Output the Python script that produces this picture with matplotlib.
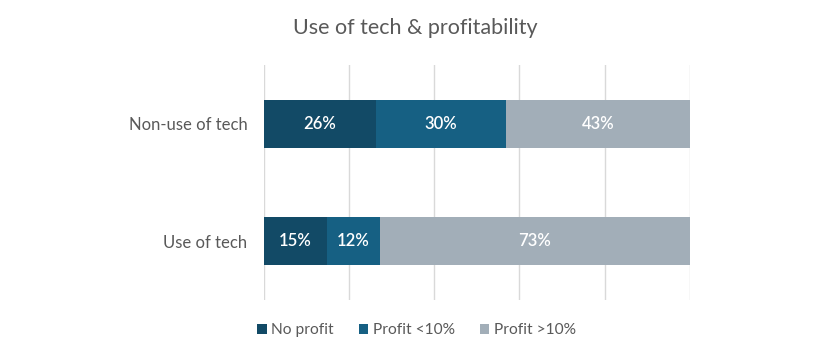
import matplotlib
matplotlib.use("Agg")
import matplotlib.pyplot as plt
import numpy as np

categories = ["Non-use of tech", "Use of tech"]
series_names = ["No profit", "Profit <10%", "Profit >10%"]
no_profit = [26.3, 14.8]
profit_lt10 = [30.5, 12.4]
profit_gt10 = [43.2, 72.8]
colors = ["#124a66", "#166083", "#a2aeb8"]

plt.rcParams['font.family'] = ['Lato', 'DejaVu Sans']

fig = plt.figure(figsize=(8.3, 3.57), dpi=100)
ax = fig.add_axes([0.318, 0.16, 0.513, 0.658])

ypos = np.arange(len(categories))
left = np.zeros(len(categories))
for name, vals, c in zip(series_names, [no_profit, profit_lt10, profit_gt10], colors):
    vals = np.array(vals)
    bars = ax.barh(ypos, vals, left=left, height=0.41, color=c, label=name, zorder=3)
    for b, v in zip(bars, vals):
        ax.text(b.get_x() + b.get_width() / 2, b.get_y() + b.get_height() / 2,
                f"{v:.0f}%", ha="center", va="center", color="white", fontsize=12,
                fontweight="semibold", zorder=4)
    left += vals

ax.set_xlim(0, 100)
ax.set_ylim(1.5, -0.5)
ax.set_xticks([0, 20, 40, 60, 80, 100])
ax.set_xticklabels([])
ax.tick_params(axis='x', length=0)
ax.tick_params(axis='y', length=0, pad=12, labelsize=12, labelcolor="#595959")
ax.set_yticks(ypos)
ax.set_yticklabels(categories)
ax.grid(axis='x', color="#d9d9d9", linewidth=1, zorder=0)
for s in ax.spines.values():
    s.set_visible(False)

fig.suptitle("Use of tech & profitability", x=0.5, y=0.95, fontsize=15.5, color="#595959")

fig.legend(loc="center", bbox_to_anchor=(0.502, 0.075), ncol=3, frameon=False,
           fontsize=11.2, labelcolor="#595959", handlelength=0.6, handleheight=0.6,
           handletextpad=0.3, columnspacing=1.6)

fig.savefig("out.png", dpi=100, facecolor="white")
